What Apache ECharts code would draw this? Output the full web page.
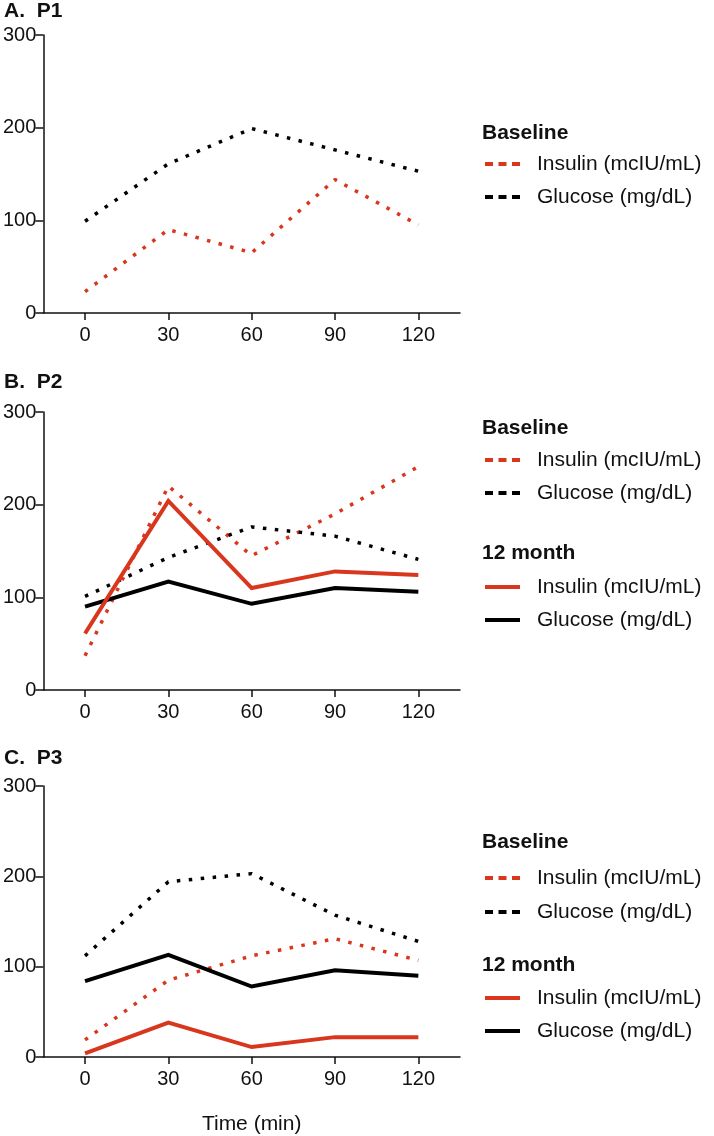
<!DOCTYPE html>
<html>
<head>
<meta charset="utf-8">
<script src="https://cdn.jsdelivr.net/npm/echarts@6/dist/echarts.min.js"></script>
<style>
  html, body { margin: 0; padding: 0; background: #fff; }
  #main { width: 714px; height: 1136px; }
</style>
</head>
<body>
<div id="main"></div>
<script>
// time points (min) and tick values
var timePoints = [0, 30, 60, 90, 120];
var xTicks = [0, 30, 60, 90, 120];
var yTicks = [0, 100, 200, 300];

// P1
var p1BaseInsulin = [23, 90, 65, 144, 95];
var p1BaseGlucose = [99, 161, 199, 176, 153];
// P2
var p2BaseInsulin = [37, 220, 145, 190, 241];
var p2BaseGlucose = [101, 143, 176, 166, 141];
var p2MonthInsulin = [61, 204, 110, 128, 124];
var p2MonthGlucose = [90, 117, 93, 110, 106];
// P3
var p3BaseInsulin = [19, 85, 112, 131, 107];
var p3BaseGlucose = [112, 194, 203, 157, 128];
var p3MonthInsulin = [4, 38, 11, 22, 22];
var p3MonthGlucose = [84, 113, 78, 96, 90];

var panelTitles = ['A.  P1', 'B.  P2', 'C.  P3'];
var insulinName = 'Insulin (mcIU/mL)';
var glucoseName = 'Glucose (mg/dL)';

var RED = '#d8361d';
var BLACK = '#000';
var FONT = '"Liberation Sans", Arial, Helvetica, sans-serif';

var myChart = echarts.init(document.getElementById('main'));

var grids = [
  { left: 43, top: 35, width: 417, height: 278 },
  { left: 43, top: 412, width: 417, height: 278 },
  { left: 43, top: 786, width: 417, height: 277 }
];

function pairs(ys) {
  return timePoints.map(function (t, i) { return [t, ys[i]]; });
}

function xAxisFor(i) {
  return {
    type: 'value', gridIndex: i, min: -15, max: 135,
    name: i === 2 ? 'Time (min)' : '',
    nameLocation: 'middle', nameGap: 57,
    nameTextStyle: { fontFamily: FONT, fontSize: 21, color: '#111' },
    axisLine: { show: true, onZero: false, lineStyle: { color: '#111', width: 1.5 } },
    axisTick: { show: true, length: 7, customValues: xTicks, lineStyle: { color: '#111', width: 1.5 } },
    axisLabel: { customValues: xTicks, margin: 12, fontFamily: FONT, fontSize: 20, color: '#111' },
    splitLine: { show: false }
  };
}

function yAxisFor(i) {
  return {
    type: 'value', gridIndex: i, min: yTicks[0], max: yTicks[yTicks.length - 1], interval: 100,
    axisLine: { show: true, onZero: false, lineStyle: { color: '#111', width: 1.5 } },
    axisTick: { show: true, length: 8, lineStyle: { color: '#111', width: 1.5 } },
    axisLabel: { margin: 7, fontFamily: FONT, fontSize: 20, color: '#111' },
    splitLine: { show: false }
  };
}

function lineSeries(name, i, ys, color, dotted) {
  return {
    name: name, type: 'line', xAxisIndex: i, yAxisIndex: i,
    data: pairs(ys), symbol: 'none', silent: true,
    lineStyle: dotted
      ? { color: color, width: 3.5, type: [3.5, 8.5], cap: 'butt' }
      : { color: color, width: 4, join: 'miter' }
  };
}

// legend drawn by hand: heading + rows
function legendBlock(headY, rows, solid) {
  var out = [{
    type: 'text', x: 482, y: headY,
    style: { text: solid ? '12 month' : 'Baseline', font: 'bold 21px ' + FONT, fill: '#111', verticalAlign: 'middle' }
  }];
  rows.forEach(function (r) {
    out.push({
      type: 'line', shape: { x1: 485, y1: r.y, x2: 520, y2: r.y },
      style: { stroke: r.color, lineWidth: 4, lineDash: solid ? null : [8, 5.5] }
    });
    out.push({
      type: 'text', x: 537, y: r.y,
      style: { text: r.text, font: '21px ' + FONT, fill: '#111', verticalAlign: 'middle' }
    });
  });
  return out;
}

var legendGraphics = [].concat(
  legendBlock(133, [{ y: 164, color: RED, text: insulinName }, { y: 197, color: BLACK, text: glucoseName }], false),
  legendBlock(428, [{ y: 460, color: RED, text: insulinName }, { y: 493, color: BLACK, text: glucoseName }], false),
  legendBlock(553, [{ y: 587, color: RED, text: insulinName }, { y: 620, color: BLACK, text: glucoseName }], true),
  legendBlock(842, [{ y: 878, color: RED, text: insulinName }, { y: 912, color: BLACK, text: glucoseName }], false),
  legendBlock(965, [{ y: 998, color: RED, text: insulinName }, { y: 1031, color: BLACK, text: glucoseName }], true)
);

var option = {
  animation: false,
  backgroundColor: '#fff',
  title: [
    { text: panelTitles[0], left: 4, top: 1 },
    { text: panelTitles[1], left: 4, top: 372 },
    { text: panelTitles[2], left: 4, top: 748 }
  ].map(function (t) {
    t.padding = 0;
    t.textStyle = { fontFamily: FONT, fontSize: 21, fontWeight: 'bold', color: '#111' };
    return t;
  }),
  grid: grids,
  xAxis: [xAxisFor(0), xAxisFor(1), xAxisFor(2)],
  yAxis: [yAxisFor(0), yAxisFor(1), yAxisFor(2)],
  series: [
    lineSeries('P1 base insulin', 0, p1BaseInsulin, RED, true),
    lineSeries('P1 base glucose', 0, p1BaseGlucose, BLACK, true),

    lineSeries('P2 base insulin', 1, p2BaseInsulin, RED, true),
    lineSeries('P2 base glucose', 1, p2BaseGlucose, BLACK, true),
    lineSeries('P2 12m glucose', 1, p2MonthGlucose, BLACK, false),
    lineSeries('P2 12m insulin', 1, p2MonthInsulin, RED, false),

    lineSeries('P3 base insulin', 2, p3BaseInsulin, RED, true),
    lineSeries('P3 base glucose', 2, p3BaseGlucose, BLACK, true),
    lineSeries('P3 12m glucose', 2, p3MonthGlucose, BLACK, false),
    lineSeries('P3 12m insulin', 2, p3MonthInsulin, RED, false)
  ],
  graphic: legendGraphics
};

myChart.setOption(option);
</script>
</body>
</html>
